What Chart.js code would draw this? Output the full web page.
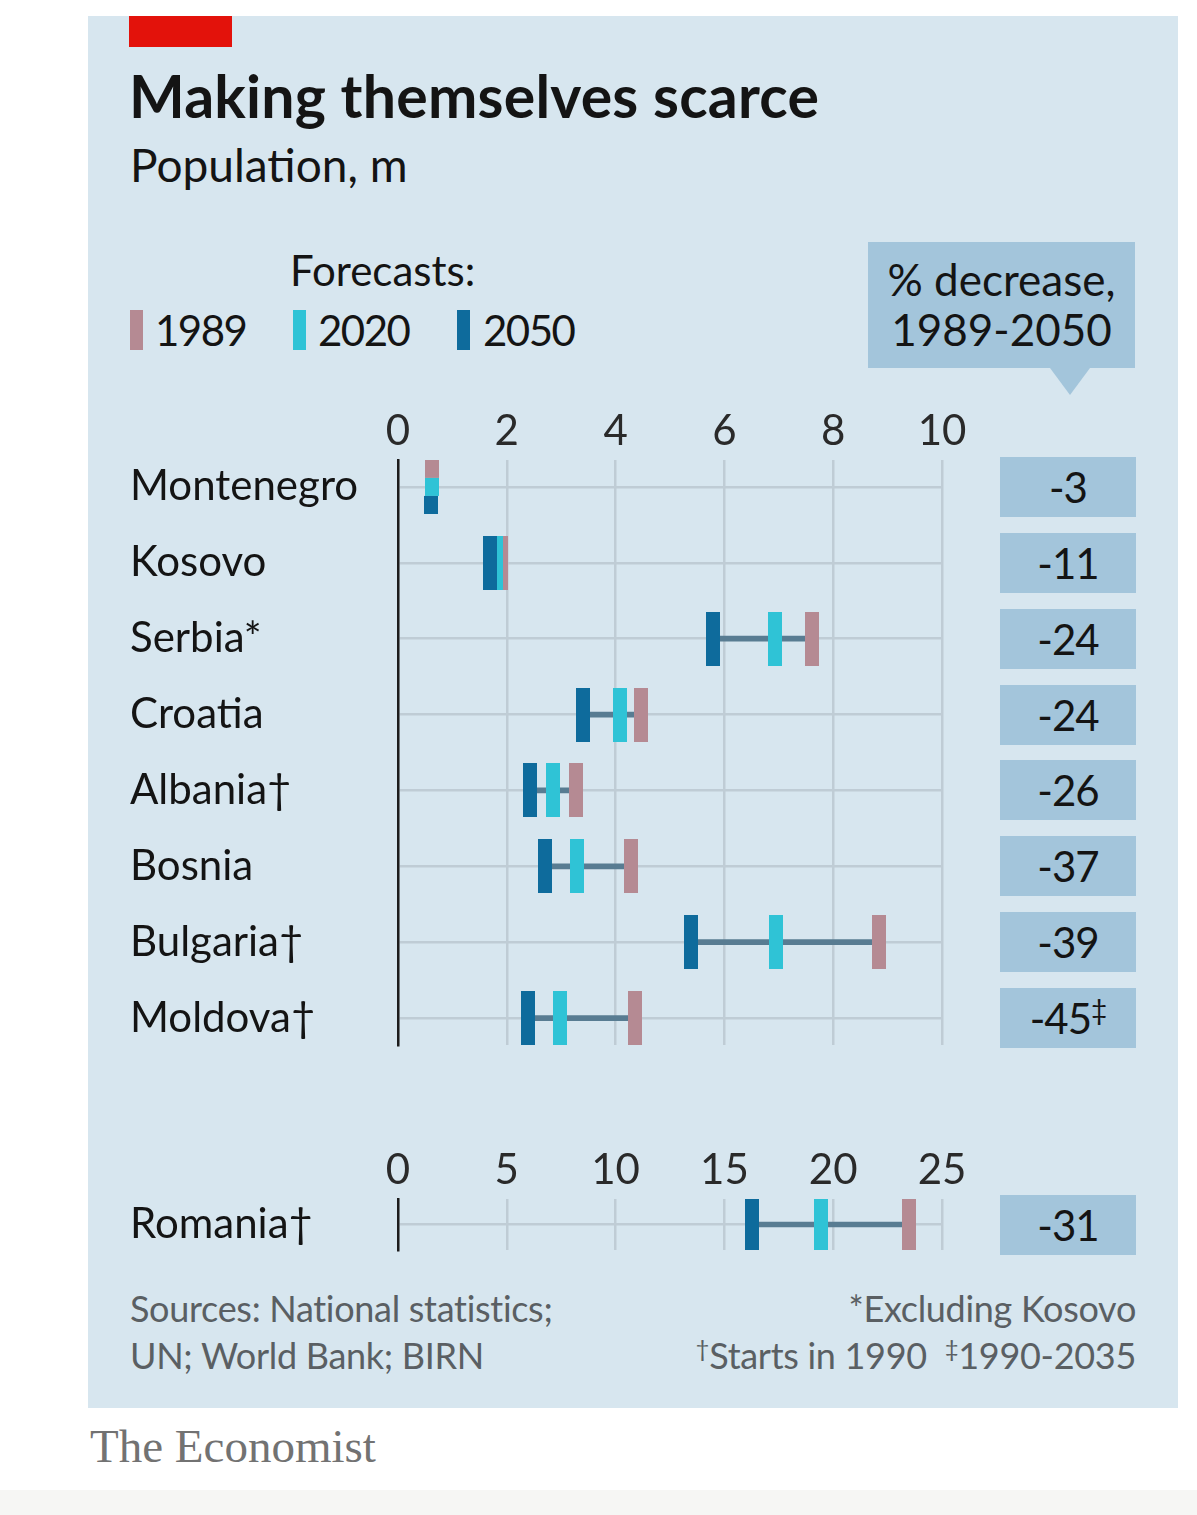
<!DOCTYPE html>
<html>
<head>
<meta charset="utf-8">
<script src="https://cdn.jsdelivr.net/npm/chart.js@4.4.1/dist/chart.umd.min.js"></script>
<style>
  body { margin: 0; background: #fff; }
  #page { position: relative; width: 1197px; height: 1515px; overflow: hidden; font-family: Lato, 'Open Sans', sans-serif; color: #141414; }
  #panel { position: absolute; left: 88px; top: 16px; width: 1090px; height: 1392px; background: #d7e6ef; }
  #redbar { position: absolute; left: 129px; top: 16px; width: 103px; height: 31px; background: #e3120b; }
  .txt { position: absolute; white-space: nowrap; }
  #title { left: 129px; top: 66px; font-size: 59px; line-height: 59px; font-weight: 700; letter-spacing: 0.2px; }
  #subtitle { left: 130px; top: 142px; font-size: 46px; line-height: 46px; }
  #forecasts { left: 290px; top: 249px; font-size: 42px; line-height: 42px; }
  .leg { position: absolute; top: 310px; width: 13px; height: 40px; }
  .legtxt { top: 309px; font-size: 42px; line-height: 42px; letter-spacing: -1.5px; }
  #hdr { position: absolute; left: 868px; top: 242px; width: 267px; height: 126px; background: #a3c5db; text-align: center; font-size: 44px; line-height: 50px; box-sizing: border-box; padding-top: 12px; }
  #hdrtip { position: absolute; left: 1050px; top: 368px; width: 0; height: 0; border-left: 20px solid transparent; border-right: 20px solid transparent; border-top: 27px solid #a3c5db; }
  .pct { position: absolute; left: 1000px; width: 136px; height: 60px; background: #a3c5db; text-align: center; font-size: 42px; line-height: 60px; letter-spacing: -1px; }
  .pct sup { font-size: 28px; line-height: 0; vertical-align: 14px; }
  canvas { position: absolute; }
  #main { left: 130px; top: 395px; }
  #rom { left: 130px; top: 1134px; }
  .foot { font-size: 36px; line-height: 36px; color: #5a5f63; letter-spacing: -0.3px; }
  .foot sup { font-size: 24px; line-height: 0; vertical-align: 12px; }
  #brand { left: 90px; top: 1422px; font-family: 'Liberation Serif', 'DejaVu Serif', serif; font-size: 47px; line-height: 48px; color: #727272; }
  #strip { position: absolute; left: 0; top: 1490px; width: 1197px; height: 25px; background: #f6f6f4; }
</style>
</head>
<body>
<div id="page">
  <div id="panel"></div>
  <div id="redbar"></div>
  <div class="txt" id="title">Making themselves scarce</div>
  <div class="txt" id="subtitle">Population, m</div>
  <div class="txt" id="forecasts">Forecasts:</div>
  <div class="leg" style="left:130px;background:#b58a93"></div>
  <div class="txt legtxt" style="left:155px">1989</div>
  <div class="leg" style="left:293px;background:#2fc3d6"></div>
  <div class="txt legtxt" style="left:318px">2020</div>
  <div class="leg" style="left:457px;background:#0e6b9c"></div>
  <div class="txt legtxt" style="left:483px">2050</div>
  <div id="hdr">% decrease,<br>1989-2050</div>
  <div id="hdrtip"></div>
  <canvas id="main" width="852" height="678"></canvas>
  <canvas id="rom" width="852" height="144"></canvas>
  <div class="txt foot" style="left:130px;top:1290px">Sources: National statistics;</div>
  <div class="txt foot" style="left:130px;top:1337px">UN; World Bank; BIRN</div>
  <div class="txt foot" style="right:61px;top:1290px">*Excluding Kosovo</div>
  <div class="txt foot" style="right:61px;top:1337px"><sup>†</sup>Starts in 1990&nbsp; <sup>‡</sup>1990-2035</div>
  <div class="txt" id="brand">The Economist</div>
  <div id="strip"></div>
</div>
<script>
// population, m
const countries = ['Montenegro', 'Kosovo', 'Serbia*', 'Croatia', 'Albania†', 'Bosnia', 'Bulgaria†', 'Moldova†'];
const pop1989 = [0.63, 1.89, 7.61, 4.47, 3.28, 4.28, 8.84, 4.36];
const pop2020 = [0.62, 1.80, 6.93, 4.08, 2.85, 3.29, 6.95, 2.98];
const pop2050 = [0.61, 1.69, 5.79, 3.40, 2.43, 2.70, 5.39, 2.39];
const decrease = ['-3', '-11', '-24', '-24', '-26', '-37', '-39', '-45‡'];
const mainTicks = [0, 2, 4, 6, 8, 10];

const romania = ['Romania†'];
const rom1989 = [23.48];
const rom2020 = [19.44];
const rom2050 = [16.27];
const romDecrease = ['-31'];
const romTicks = [0, 5, 10, 15, 20, 25];

const col1989 = '#b58a93';
const col2020 = '#2fc3d6';
const col2050 = '#0e6b9c';
const colLink = '#587c92';
const colGrid = '#bfccd5';

Chart.defaults.font.family = 'Lato';

// marker 14x54, or one third of it when the three values sit on top of each other
function marker(color, part) {
  const c = document.createElement('canvas');
  c.width = 14; c.height = 54;
  const g = c.getContext('2d');
  g.fillStyle = color;
  if (part == null) g.fillRect(0, 0, 14, 54);
  else g.fillRect(0, part * 18, 14, 18);
  return c;
}

const boxPlugin = {
  id: 'boxes',
  afterDraw(chart, args, opts) {
    const y = chart.scales.y;
    const page = document.getElementById('page');
    opts.texts.forEach((t, i) => {
      let d = document.getElementById(opts.prefix + i);
      if (!d) {
        d = document.createElement('div');
        d.id = opts.prefix + i;
        d.className = 'pct';
        d.innerHTML = t.replace(/([†‡])/g, '<sup>$1</sup>');
        page.appendChild(d);
      }
      d.style.top = (chart.canvas.offsetTop + y.getPixelForValue(i) - 30) + 'px';
    });
  }
};

function makeChart(id, labels, s1989, s2020, s2050, ticks, texts, pad) {
  const xMax = ticks[ticks.length - 1];
  const stacked = labels.map((_, i) => {
    const v = [s1989[i], s2020[i], s2050[i]];
    return Math.max(...v) - Math.min(...v) < xMax * 0.01;
  });
  const pts = (s, color, part, order) => ({
    type: 'line',
    data: labels.map((_, i) => ({ x: s[i], y: i })),
    showLine: false,
    pointRadius: 27,
    pointStyle: ctx => stacked[ctx.dataIndex] ? marker(color, part) : marker(color),
    order: order
  });
  return new Chart(document.getElementById(id), {
    type: 'bar',
    data: {
      datasets: [
        {
          data: labels.map((_, i) => ({ x: [s2050[i], s1989[i]], y: i })),
          backgroundColor: colLink,
          barThickness: 5,
          order: 10
        },
        pts(s1989, col1989, 0, 3),
        pts(s2020, col2020, 1, 2),
        pts(s2050, col2050, 2, 1)
      ]
    },
    options: {
      indexAxis: 'y',
      responsive: false,
      animation: false,
      events: [],
      layout: { padding: { left: 0, right: 40, top: 0, bottom: 5 } },
      plugins: { legend: { display: false }, tooltip: { enabled: false }, boxes: { texts: texts, prefix: id } },
      scales: {
        x: {
          type: 'linear',
          position: 'top',
          min: 0,
          max: xMax,
          afterBuildTicks: s => { s.ticks = ticks.map(v => ({ value: v })); },
          afterFit: s => { s.height = 65; },
          grid: { color: colGrid, lineWidth: 2.5, drawTicks: false },
          border: { display: false },
          ticks: { padding: 3, color: '#2a2a2a', font: { size: 42 } }
        },
        y: {
          type: 'linear',
          reverse: true,
          offset: false,
          min: -pad,
          max: labels.length - 1 + pad,
          afterBuildTicks: s => { s.ticks = labels.map((_, i) => ({ value: i })); },
          afterFit: s => { s.width = 268; },
          grid: { color: colGrid, lineWidth: 2.5, drawTicks: false, offset: false },
          border: { display: true, color: '#1c1c1c', width: 2.5 },
          ticks: { callback: v => labels[v], crossAlign: 'far', padding: 0, color: '#141414', font: { size: 42 } }
        }
      }
    },
    plugins: [boxPlugin]
  });
}

makeChart('main', countries, pop1989, pop2020, pop2050, mainTicks, decrease, 0.355);
makeChart('rom', romania, rom1989, rom2020, rom2050, romTicks, romDecrease, 0.5);
</script>
</body>
</html>
